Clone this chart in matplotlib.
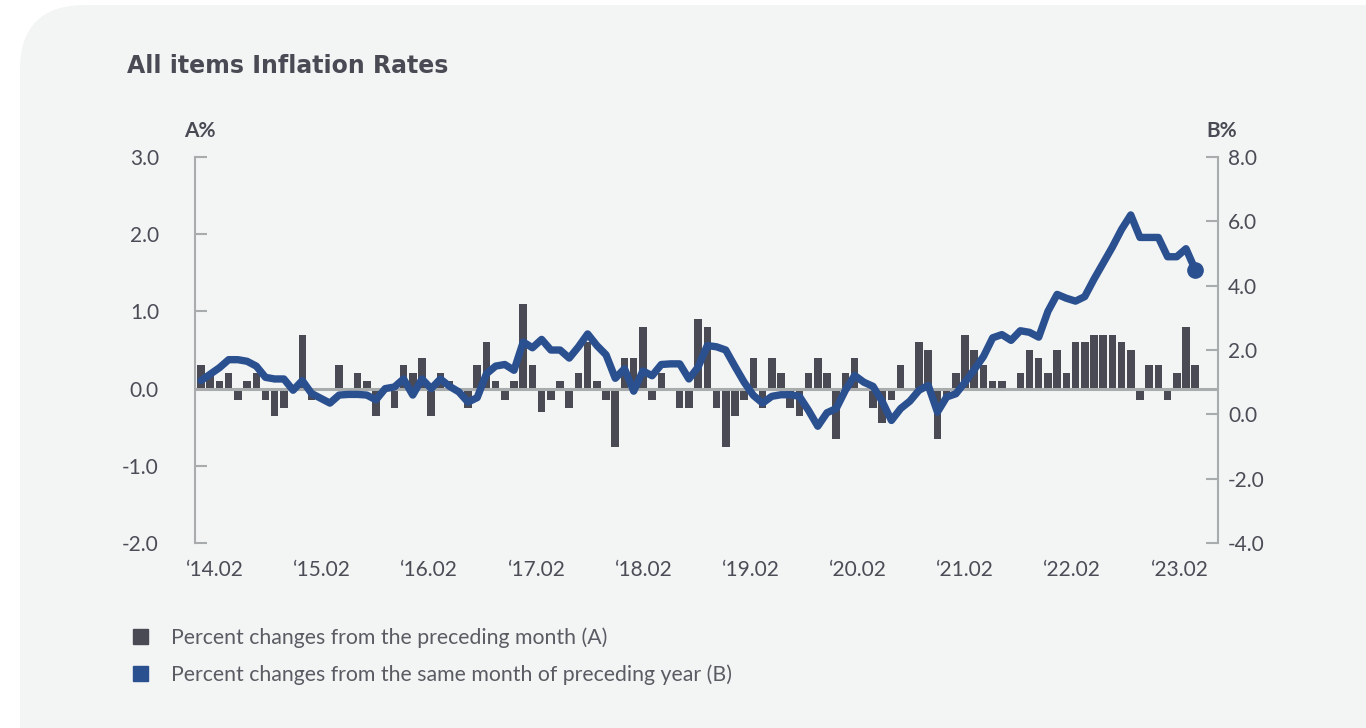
import numpy as np
import matplotlib.pyplot as plt
from matplotlib.patches import FancyBboxPatch, Patch
from matplotlib.transforms import IdentityTransform

# monthly series, 2014.02 .. 2023.02
mom = [0.3, 0.2, 0.1, 0.2, -0.15, 0.1, 0.2, -0.15, -0.35, -0.25,
       0.0, 0.7, -0.15, 0.0, 0.0, 0.3, 0.0, 0.2, 0.1, -0.35,
       0.0, -0.25, 0.3, 0.2, 0.4, -0.35, 0.2, 0.1, 0.0, -0.25,
       0.3, 0.6, 0.1, -0.15, 0.1, 1.1, 0.3, -0.3, -0.15, 0.1,
       -0.25, 0.2, 0.6, 0.1, -0.15, -0.75, 0.4, 0.4, 0.8, -0.15,
       0.2, 0.0, -0.25, -0.25, 0.9, 0.8, -0.25, -0.75, -0.35, -0.15,
       0.4, -0.25, 0.4, 0.2, -0.25, -0.35, 0.2, 0.4, 0.2, -0.65,
       0.2, 0.4, 0.0, -0.25, -0.45, -0.15, 0.3, 0.0, 0.6, 0.5,
       -0.65, -0.1, 0.2, 0.7, 0.5, 0.3, 0.1, 0.1, 0.0, 0.2,
       0.5, 0.4, 0.2, 0.5, 0.2, 0.6, 0.6, 0.7, 0.7, 0.7,
       0.6, 0.5, -0.15, 0.3, 0.3, -0.15, 0.2, 0.8, 0.3]

yoy = [1.05, 1.25, 1.45, 1.7, 1.7, 1.65, 1.5, 1.15, 1.1, 1.1,
       0.75, 1.05, 0.65, 0.5, 0.35, 0.6, 0.62, 0.62, 0.6, 0.45,
       0.8, 0.85, 1.1, 0.6, 1.1, 0.8, 1.1, 0.87, 0.7, 0.38,
       0.52, 1.26, 1.5, 1.55, 1.37, 2.25, 2.07, 2.33, 2.0, 2.0,
       1.75, 2.1, 2.5, 2.14, 1.85, 1.12, 1.42, 0.72, 1.35, 1.2,
       1.55, 1.57, 1.57, 1.1, 1.47, 2.14, 2.1, 2.0, 1.49, 1.0,
       0.59, 0.35, 0.56, 0.61, 0.61, 0.56, 0.12, -0.37, 0.05, 0.18,
       0.75, 1.21, 1.0, 0.87, 0.4, -0.19, 0.18, 0.41, 0.75, 0.9,
       0.07, 0.54, 0.64, 1.0, 1.39, 1.8, 2.38, 2.48, 2.3, 2.6,
       2.55, 2.4, 3.2, 3.73, 3.61, 3.52, 3.66, 4.2, 4.7, 5.2,
       5.75, 6.2, 5.5, 5.5, 5.5, 4.9, 4.9, 5.15, 4.5]

year_labels = ["\u201814.02", "\u201815.02", "\u201816.02", "\u201817.02", "\u201818.02",
               "\u201819.02", "\u201820.02", "\u201821.02", "\u201822.02", "\u201823.02"]
left_ticks = [-2.0, -1.0, 0.0, 1.0, 2.0, 3.0]
right_ticks = [-4.0, -2.0, 0.0, 2.0, 4.0, 6.0, 8.0]

BAR = '#4a4a55'
LINE = '#2b5090'
AXIS = '#a8acac'
TXT = '#4c4c57'

plt.rcParams['font.family'] = ['Lato', 'DejaVu Sans']

fig = plt.figure(figsize=(13.66, 7.28), dpi=100, facecolor='white')

# rounded card behind everything
card = FancyBboxPatch((20, -80), 1440, 803, boxstyle='round,pad=0,rounding_size=65',
                      transform=IdentityTransform(), facecolor='#f3f4f4',
                      edgecolor='none', zorder=0)
fig.add_artist(card)

ax = fig.add_axes([0.1428, 0.2541, 0.749, 0.5302])
ax.patch.set_visible(False)
x = np.arange(len(mom))

ax.bar(x, mom, width=0.82, color=BAR, zorder=2)
ax.axhline(0, color=AXIS, lw=2.2, zorder=3)
ax.set_xlim(-0.65, 110.5)
ax.set_ylim(-2, 3)
ax.set_yticks(left_ticks)
ax.set_yticklabels([f'{v:.1f}' for v in left_ticks])
ax.set_xticks(np.linspace(1.5, 106.3, len(year_labels)))
ax.set_xticklabels(year_labels)
ax.tick_params(axis='y', direction='in', length=8.6, width=1.5, color=AXIS,
               labelsize=15, labelcolor=TXT, pad=26)
ax.tick_params(axis='x', length=0, labelsize=15, labelcolor=TXT, pad=12)
for s in ['top', 'right', 'bottom']:
    ax.spines[s].set_visible(False)
ax.spines['left'].set_color(AXIS)
ax.spines['left'].set_linewidth(1.5)

ax2 = ax.twinx()
ax2.plot(x, yoy, color=LINE, lw=5.3, solid_joinstyle='round', solid_capstyle='round', zorder=4)
ax2.plot(x[-1], yoy[-1], 'o', color=LINE, ms=11, zorder=5)
ax2.set_ylim(-4, 8)
ax2.set_yticks(right_ticks)
ax2.set_yticklabels([f'{v:.1f}' for v in right_ticks])
ax2.tick_params(axis='y', direction='in', length=8.6, width=1.5, color=AXIS,
                labelsize=15, labelcolor=TXT, pad=7)
for s in ['top', 'left', 'bottom']:
    ax2.spines[s].set_visible(False)
ax2.spines['right'].set_color(AXIS)
ax2.spines['right'].set_linewidth(1.5)

fig.text(127 / 1366, 1 - 66 / 728, 'All items Inflation Rates', fontsize=17,
         fontweight='bold', family='DejaVu Sans', color=BAR, va='center', ha='left')
fig.text(200 / 1366, 1 - 131 / 728, 'A%', fontsize=15, fontweight='bold',
         color=BAR, va='center', ha='center')
fig.text(1222 / 1366, 1 - 131 / 728, 'B%', fontsize=15, fontweight='bold',
         color=BAR, va='center', ha='center')

handles = [Patch(color=BAR, label='Percent changes from the preceding month (A)'),
           Patch(color=LINE, label='Percent changes from the same month of preceding year (B)')]
fig.legend(handles=handles, loc='upper left', bbox_to_anchor=(133 / 1366, 1 - 627 / 728),
           frameon=False, fontsize=15.3, handlelength=0.7, handleheight=0.7,
           handletextpad=1.1, labelspacing=0.78, borderaxespad=0, borderpad=0,
           labelcolor='#5b5b63')

fig.savefig('out.png', dpi=100, facecolor=fig.get_facecolor())
